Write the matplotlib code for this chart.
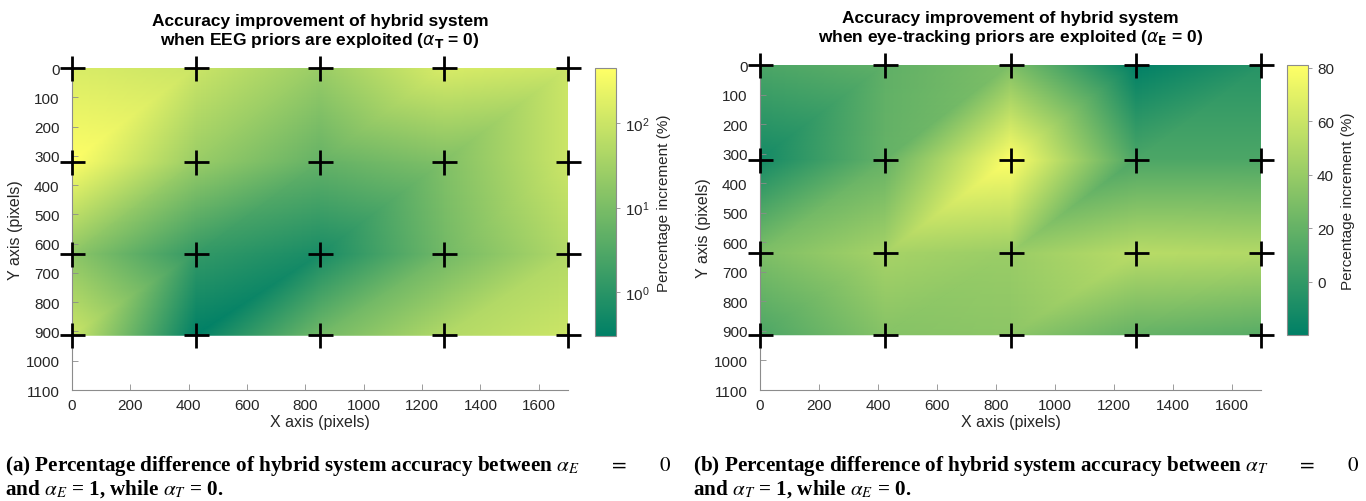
import numpy as np
import matplotlib
matplotlib.use("Agg")
import matplotlib.pyplot as plt
import matplotlib.tri as mtri
from matplotlib.colors import LogNorm, Normalize

plt.rcParams['font.family'] = ['Liberation Sans', 'DejaVu Sans']

# measurement points (screen pixels)
x_pts = [0, 425, 850, 1275, 1700]
y_pts = [0, 320, 637, 913]

# (a) percentage increment, EEG priors exploited (rows = y_pts, cols = x_pts)
eeg_gain = [
    [150, 100, 25, 150, 105],
    [455, 25, 5.5, 12, 105],
    [17, 1.3, 0.6, 8, 50],
    [105, 0.3, 8, 50, 105],
]

# (b) percentage increment, eye-tracking priors exploited
eye_gain = [
    [10, 18, 30, -20, -5],
    [-12, 20, 81, 10, 10],
    [30, 46, 41, 53, 51],
    [10, 33, 36, 20, 15],
]

titles = [
    "Accuracy improvement of hybrid system\nwhen EEG priors are exploited ($\\alpha_{\\mathbf{T}}$ = 0)",
    "Accuracy improvement of hybrid system\nwhen eye-tracking priors are exploited ($\\alpha_{\\mathbf{E}}$ = 0)",
]
captions = [
    ["(a) Percentage difference of hybrid system accuracy between $\\alpha_E\\qquad=\\qquad0$",
     "and $\\alpha_E$ = 1, while $\\alpha_T$ = 0."],
    ["(b) Percentage difference of hybrid system accuracy between $\\alpha_T\\qquad=\\qquad0$",
     "and $\\alpha_T$ = 1, while $\\alpha_E$ = 0."],
]

# triangulation of the grid, diagonals going "/" on screen
X, Y = np.meshgrid(x_pts, y_pts)
nx = len(x_pts)
tris = []
for j in range(len(y_pts) - 1):
    for i in range(nx - 1):
        tl = j * nx + i
        tr = tl + 1
        bl = tl + nx
        br = bl + 1
        tris.append([tl, tr, bl])
        tris.append([tr, br, bl])
tri = mtri.Triangulation(X.ravel(), Y.ravel(), tris)

fig = plt.figure(figsize=(13.66, 5.02), dpi=100)

ax_pos = [[0.0527, 0.2211, 0.3631, 0.6414], [0.5564, 0.2211, 0.3668, 0.6474]]
cb_pos = [[0.4356, 0.3287, 0.0154, 0.5339], [0.9422, 0.3307, 0.0154, 0.5378]]
cap_x = [5 / 1366, 693 / 1366]
grey = '#8c8c8c'
txt = '#262626'

for k, data in enumerate([eeg_gain, eye_gain]):
    z = np.array(data, dtype=float).ravel()
    if k == 0:
        norm = LogNorm(vmin=z.min(), vmax=z.max())
    else:
        norm = Normalize(vmin=z.min(), vmax=z.max())
    ax = fig.add_axes(ax_pos[k])
    tpc = ax.tripcolor(tri, z, shading='gouraud', cmap='summer', norm=norm)
    ax.plot(X.ravel(), Y.ravel(), '+', color='k', ms=18, mew=2, clip_on=False, zorder=5)
    ax.set_xlim(0, 1700)
    ax.set_ylim(1100, 0)
    ax.set_xticks(range(0, 1700, 200))
    ax.set_yticks(range(0, 1101, 100))
    for s in ['top', 'right']:
        ax.spines[s].set_visible(False)
    for s in ['left', 'bottom']:
        ax.spines[s].set_color(grey)
        ax.spines[s].set_linewidth(0.8)
    ax.tick_params(direction='in', length=4, width=0.6, color=grey,
                   labelsize=11, labelcolor=txt)
    ax.tick_params(axis='y', pad=9)
    ax.tick_params(axis='x', pad=6)
    ax.set_xlabel("X axis (pixels)", fontsize=11.5, color=txt, labelpad=1)
    ax.set_ylabel("Y axis (pixels)", fontsize=11.5, color=txt, labelpad=2)
    ax.set_title(titles[k], fontsize=12.5, fontweight='bold', pad=17, linespacing=1.2)

    cax = fig.add_axes(cb_pos[k])
    cb = fig.colorbar(tpc, cax=cax)
    cb.outline.set_edgecolor(grey)
    cb.outline.set_linewidth(0.8)
    cax.tick_params(which='both', direction='out', length=3, width=0.6, color=grey,
                    labelsize=11, labelcolor=txt)
    if k == 0:
        cb.set_ticks([1, 10, 100])
        cax.minorticks_off()
    else:
        cb.set_ticks([0, 20, 40, 60, 80])
    cb.set_label("Percentage increment (%)", fontsize=11, color=txt, labelpad=5)

    for n, line in enumerate(captions[k]):
        fig.text(cap_x[k], 1 - (466 + 23 * n) / 502, line, family='Liberation Serif',
                 fontweight='bold', fontsize=15.2, va='center', ha='left',
                 math_fontfamily='stix')

fig.savefig("out.png", dpi=100)
